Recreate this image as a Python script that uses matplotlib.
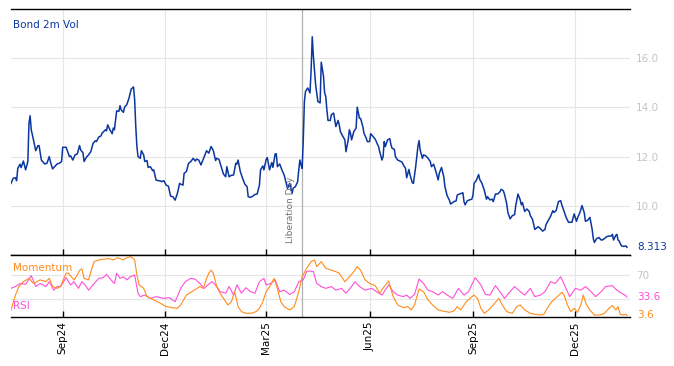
import numpy as np
import pandas as pd
import matplotlib
matplotlib.use('Agg')
import matplotlib.pyplot as plt
import matplotlib.dates as mdates
import matplotlib.transforms as mtransforms

# --- data ---
vol_dates = [
    '2024-07-17', '2024-07-19', '2024-07-21', '2024-07-22', '2024-07-23', '2024-07-25', '2024-07-26', '2024-07-28',
    '2024-07-30', '2024-08-01', '2024-08-02', '2024-08-03', '2024-08-04', '2024-08-06', '2024-08-08', '2024-08-10',
    '2024-08-11', '2024-08-13', '2024-08-16', '2024-08-18', '2024-08-20', '2024-08-21', '2024-08-23', '2024-08-25',
    '2024-08-27', '2024-08-29', '2024-08-31', '2024-09-01', '2024-09-04', '2024-09-07', '2024-09-08', '2024-09-10',
    '2024-09-12', '2024-09-14', '2024-09-16', '2024-09-17', '2024-09-19', '2024-09-20', '2024-09-22', '2024-09-24',
    '2024-09-26', '2024-09-28', '2024-09-30', '2024-10-01', '2024-10-03', '2024-10-05', '2024-10-06', '2024-10-09',
    '2024-10-10', '2024-10-11', '2024-10-13', '2024-10-15', '2024-10-16', '2024-10-17', '2024-10-19', '2024-10-21',
    '2024-10-22', '2024-10-23', '2024-10-25', '2024-10-26', '2024-10-28', '2024-10-30', '2024-11-01', '2024-11-03',
    '2024-11-04', '2024-11-05', '2024-11-06', '2024-11-07', '2024-11-09', '2024-11-10', '2024-11-12', '2024-11-13',
    '2024-11-15', '2024-11-16', '2024-11-18', '2024-11-20', '2024-11-21', '2024-11-23', '2024-11-25', '2024-11-27',
    '2024-11-28', '2024-11-30', '2024-12-02', '2024-12-04', '2024-12-06', '2024-12-08', '2024-12-10', '2024-12-12',
    '2024-12-14', '2024-12-15', '2024-12-17', '2024-12-18', '2024-12-20', '2024-12-22', '2024-12-24', '2024-12-26',
    '2024-12-28', '2024-12-29', '2024-12-31', '2025-01-02', '2025-01-04', '2025-01-05', '2025-01-07', '2025-01-09',
    '2025-01-11', '2025-01-13', '2025-01-15', '2025-01-16', '2025-01-18', '2025-01-20', '2025-01-22', '2025-01-24',
    '2025-01-25', '2025-01-27', '2025-01-29', '2025-01-31', '2025-02-02', '2025-02-03', '2025-02-04', '2025-02-06',
    '2025-02-08', '2025-02-10', '2025-02-12', '2025-02-13', '2025-02-15', '2025-02-17', '2025-02-19', '2025-02-21',
    '2025-02-23', '2025-02-24', '2025-02-26', '2025-02-27', '2025-03-01', '2025-03-02', '2025-03-04', '2025-03-06',
    '2025-03-07', '2025-03-09', '2025-03-10', '2025-03-11', '2025-03-13', '2025-03-15', '2025-03-17', '2025-03-19',
    '2025-03-20', '2025-03-22', '2025-03-24', '2025-03-25', '2025-03-27', '2025-03-29', '2025-03-30', '2025-03-31',
    '2025-04-01', '2025-04-02', '2025-04-03', '2025-04-04', '2025-04-05', '2025-04-07', '2025-04-09', '2025-04-10',
    '2025-04-11', '2025-04-12', '2025-04-14', '2025-04-16', '2025-04-18', '2025-04-19', '2025-04-21', '2025-04-22',
    '2025-04-23', '2025-04-24', '2025-04-25', '2025-04-27', '2025-04-28', '2025-04-30', '2025-05-02', '2025-05-04',
    '2025-05-05', '2025-05-06', '2025-05-08', '2025-05-10', '2025-05-11', '2025-05-13', '2025-05-14', '2025-05-15',
    '2025-05-16', '2025-05-18', '2025-05-20', '2025-05-21', '2025-05-23', '2025-05-24', '2025-05-26', '2025-05-27',
    '2025-05-29', '2025-05-30', '2025-06-01', '2025-06-02', '2025-06-04', '2025-06-06', '2025-06-08', '2025-06-09',
    '2025-06-10', '2025-06-12', '2025-06-13', '2025-06-14', '2025-06-15', '2025-06-17', '2025-06-19', '2025-06-20',
    '2025-06-21', '2025-06-23', '2025-06-24', '2025-06-26', '2025-06-28', '2025-06-30', '2025-07-01', '2025-07-03',
    '2025-07-04', '2025-07-06', '2025-07-07', '2025-07-09', '2025-07-10', '2025-07-12', '2025-07-14', '2025-07-15',
    '2025-07-16', '2025-07-18', '2025-07-19', '2025-07-21', '2025-07-23', '2025-07-25', '2025-07-26', '2025-07-28',
    '2025-07-30', '2025-08-01', '2025-08-02', '2025-08-04', '2025-08-06', '2025-08-07', '2025-08-09', '2025-08-11',
    '2025-08-12', '2025-08-15', '2025-08-17', '2025-08-18', '2025-08-20', '2025-08-22', '2025-08-23', '2025-08-24',
    '2025-08-25', '2025-08-27', '2025-08-29', '2025-08-31', '2025-09-01', '2025-09-02', '2025-09-04', '2025-09-06',
    '2025-09-07', '2025-09-09', '2025-09-11', '2025-09-13', '2025-09-14', '2025-09-16', '2025-09-18', '2025-09-19',
    '2025-09-21', '2025-09-23', '2025-09-25', '2025-09-26', '2025-09-28', '2025-09-29', '2025-10-01', '2025-10-02',
    '2025-10-04', '2025-10-06', '2025-10-08', '2025-10-09', '2025-10-11', '2025-10-13', '2025-10-14', '2025-10-15',
    '2025-10-17', '2025-10-19', '2025-10-21', '2025-10-22', '2025-10-24', '2025-10-26', '2025-10-28', '2025-10-29',
    '2025-10-31', '2025-11-02', '2025-11-04', '2025-11-05', '2025-11-07', '2025-11-09', '2025-11-11', '2025-11-12',
    '2025-11-14', '2025-11-16', '2025-11-18', '2025-11-19', '2025-11-21', '2025-11-23', '2025-11-25', '2025-11-27',
    '2025-11-28', '2025-11-30', '2025-12-02', '2025-12-03', '2025-12-05', '2025-12-07', '2025-12-09', '2025-12-10',
    '2025-12-12', '2025-12-14', '2025-12-16', '2025-12-17', '2025-12-18', '2025-12-20', '2025-12-22', '2025-12-24',
    '2025-12-25', '2025-12-27', '2025-12-29', '2025-12-31', '2026-01-02', '2026-01-03', '2026-01-04', '2026-01-06',
    '2026-01-07', '2026-01-08', '2026-01-09', '2026-01-11', '2026-01-13', '2026-01-15', '2026-01-16',
]
vol_values = [
    10.91, 11.12, 11.14, 11.02, 11.52, 11.69, 11.55, 11.82,
    11.46, 11.80, 13.36, 13.66, 13.09, 12.68, 12.24, 12.45,
    12.44, 11.86, 11.70, 11.73, 12.00, 11.80, 11.50, 11.60,
    11.70, 11.73, 11.80, 12.38, 12.38, 12.00, 12.03, 11.86,
    12.07, 12.11, 12.45, 12.27, 12.16, 11.80, 11.97, 12.07,
    12.20, 12.54, 12.64, 12.61, 12.79, 12.84, 12.95, 13.09,
    13.05, 13.29, 13.09, 12.93, 13.16, 13.09, 13.86, 13.84,
    14.07, 13.90, 13.80, 14.01, 14.11, 14.38, 14.75, 14.83,
    14.31, 13.22, 12.41, 12.00, 11.93, 12.24, 12.07, 11.80,
    11.84, 11.56, 11.59, 11.43, 11.46, 11.05, 11.02, 11.01,
    10.98, 11.02, 10.84, 10.80, 10.39, 10.37, 10.23, 10.50,
    10.91, 10.88, 10.84, 11.32, 11.39, 11.73, 11.80, 11.93,
    11.82, 11.90, 11.86, 11.66, 11.89, 12.00, 12.24, 12.14,
    12.41, 12.24, 11.84, 11.93, 11.89, 11.59, 11.29, 11.18,
    11.59, 11.18, 11.24, 11.25, 11.73, 11.70, 11.86, 11.39,
    11.12, 10.88, 10.78, 10.37, 10.34, 10.39, 10.46, 10.48,
    10.84, 11.46, 11.62, 11.46, 11.89, 11.96, 11.46, 11.76,
    11.56, 12.11, 12.11, 11.59, 11.70, 11.46, 11.25, 10.88,
    10.71, 10.91, 10.50, 10.71, 10.78, 10.98, 11.46, 11.86,
    11.66, 11.52, 12.68, 14.24, 14.65, 14.79, 14.59, 15.54,
    16.87, 16.08, 14.92, 14.24, 14.18, 15.84, 15.27, 14.59,
    14.45, 13.91, 13.47, 13.47, 13.70, 13.77, 13.22, 13.47,
    13.29, 13.02, 12.84, 12.68, 12.20, 12.68, 13.09, 12.95,
    12.68, 13.02, 13.16, 14.01, 13.56, 13.55, 13.22, 12.95,
    12.75, 12.61, 12.61, 12.93, 12.82, 12.71, 12.50, 12.41,
    12.20, 11.86, 12.00, 12.61, 12.41, 12.68, 12.73, 12.48,
    12.34, 12.30, 12.00, 11.86, 11.82, 11.77, 11.66, 11.52,
    11.14, 11.48, 11.25, 10.94, 10.91, 11.59, 12.41, 12.65,
    12.27, 11.93, 12.07, 12.03, 11.93, 11.80, 11.59, 11.69,
    11.39, 11.05, 11.32, 11.56, 11.18, 10.78, 10.41, 10.23,
    10.07, 10.17, 10.20, 10.44, 10.48, 10.51, 10.53, 10.17,
    10.04, 10.21, 10.24, 10.27, 10.44, 10.91, 11.04, 11.27,
    11.07, 10.91, 10.64, 10.27, 10.37, 10.24, 10.27, 10.17,
    10.48, 10.48, 10.57, 10.67, 10.61, 10.47, 10.08, 9.73,
    9.47, 9.60, 9.64, 10.00, 10.48, 10.24, 10.04, 10.13,
    9.77, 9.87, 9.77, 9.60, 9.44, 9.04, 9.11, 9.15,
    9.07, 8.97, 9.04, 9.24, 9.41, 9.57, 9.80, 9.73,
    9.81, 10.17, 10.21, 10.04, 9.77, 9.51, 9.33, 9.33,
    9.33, 9.67, 9.37, 9.51, 9.71, 10.01, 9.71, 9.37,
    9.41, 9.53, 9.04, 8.67, 8.51, 8.67, 8.71, 8.61,
    8.61, 8.67, 8.75, 8.77, 8.77, 8.84, 8.61, 8.80,
    8.84, 8.61, 8.57, 8.37, 8.35, 8.37, 8.313,
]

mom_dates = [
    '2024-07-17', '2024-07-21', '2024-07-24', '2024-07-28', '2024-08-02', '2024-08-06', '2024-08-12', '2024-08-17',
    '2024-08-20', '2024-08-23', '2024-08-27', '2024-08-30', '2024-09-04', '2024-09-06', '2024-09-11', '2024-09-14',
    '2024-09-16', '2024-09-18', '2024-09-20', '2024-09-24', '2024-09-27', '2024-09-29', '2024-10-03', '2024-10-07',
    '2024-10-12', '2024-10-16', '2024-10-20', '2024-10-25', '2024-10-28', '2024-11-01', '2024-11-04', '2024-11-06',
    '2024-11-08', '2024-11-12', '2024-11-15', '2024-11-21', '2024-11-27', '2024-12-02', '2024-12-07', '2024-12-12',
    '2024-12-15', '2024-12-20', '2024-12-27', '2025-01-01', '2025-01-04', '2025-01-07', '2025-01-09', '2025-01-11',
    '2025-01-13', '2025-01-16', '2025-01-19', '2025-01-23', '2025-01-26', '2025-01-29', '2025-02-01', '2025-02-04',
    '2025-02-07', '2025-02-11', '2025-02-16', '2025-02-20', '2025-02-23', '2025-02-26', '2025-03-01', '2025-03-05',
    '2025-03-08', '2025-03-11', '2025-03-14', '2025-03-17', '2025-03-22', '2025-03-26', '2025-03-30', '2025-04-02',
    '2025-04-06', '2025-04-10', '2025-04-13', '2025-04-15', '2025-04-19', '2025-04-23', '2025-04-28', '2025-05-02',
    '2025-05-05', '2025-05-10', '2025-05-14', '2025-05-18', '2025-05-21', '2025-05-24', '2025-05-28', '2025-06-01',
    '2025-06-06', '2025-06-10', '2025-06-14', '2025-06-18', '2025-06-22', '2025-06-26', '2025-07-01', '2025-07-05',
    '2025-07-08', '2025-07-11', '2025-07-15', '2025-07-19', '2025-07-23', '2025-07-27', '2025-08-01', '2025-08-05',
    '2025-08-11', '2025-08-15', '2025-08-18', '2025-08-21', '2025-08-26', '2025-08-30', '2025-09-02', '2025-09-05',
    '2025-09-08', '2025-09-11', '2025-09-15', '2025-09-19', '2025-09-24', '2025-09-27', '2025-10-01', '2025-10-06',
    '2025-10-10', '2025-10-13', '2025-10-17', '2025-10-22', '2025-10-26', '2025-10-31', '2025-11-03', '2025-11-06',
    '2025-11-10', '2025-11-15', '2025-11-19', '2025-11-21', '2025-11-24', '2025-11-27', '2025-11-30', '2025-12-03',
    '2025-12-06', '2025-12-08', '2025-12-11', '2025-12-14', '2025-12-18', '2025-12-23', '2025-12-27', '2025-12-31',
    '2026-01-03', '2026-01-06', '2026-01-08', '2026-01-10', '2026-01-13', '2026-01-15', '2026-01-16',
]
mom_values = [
    12.5, 37, 51, 59, 64.5, 56, 62, 59,
    64.5, 51, 48, 51, 73, 73, 62, 70,
    78, 80, 64.5, 62, 81, 92, 94.7, 96,
    97, 94.7, 98.5, 94.7, 98.5, 100, 94.7, 70,
    53.6, 48, 34.4, 29, 23.4, 18, 16.3, 15.2,
    20.7, 37, 45, 51, 48, 64.5, 73, 78,
    73, 51, 40, 29, 20.7, 26, 42.6, 18,
    9.7, 7, 7, 9.7, 15.2, 26, 42.6, 53.6,
    64.5, 48, 26, 18, 12.5, 18, 42.6, 67,
    81, 92, 94.7, 83.7, 92, 81, 78, 75.5,
    73, 59, 67, 75.5, 83.7, 78, 62, 56,
    52.5, 40, 51, 60, 34.4, 20.7, 16.3, 18,
    12.5, 20.7, 47, 42.6, 29, 20.7, 12.5, 10.8,
    8.6, 10.8, 18, 12.5, 26, 32.7, 37, 31.6,
    15.2, 7, 12.5, 20.7, 31.6, 20.7, 9.7, 7,
    18, 20.7, 12.5, 7, 5.3, 4.2, 5.3, 15.2,
    26, 34.4, 41.5, 37, 20.7, 9.7, 15.2, 8.6,
    20.7, 37, 20.7, 12.5, 4.2, 4.2, 7, 15.2,
    19.6, 12.5, 18, 5.3, 4.2, 5.3, 3.6,
]

rsi_dates = [
    '2024-07-17', '2024-07-21', '2024-07-25', '2024-07-30', '2024-08-04', '2024-08-08', '2024-08-12', '2024-08-17',
    '2024-08-20', '2024-08-24', '2024-08-27', '2024-08-30', '2024-09-04', '2024-09-08', '2024-09-11', '2024-09-15',
    '2024-09-18', '2024-09-21', '2024-09-24', '2024-09-29', '2024-10-03', '2024-10-07', '2024-10-10', '2024-10-14',
    '2024-10-17', '2024-10-19', '2024-10-22', '2024-10-25', '2024-10-28', '2024-10-31', '2024-11-04', '2024-11-07',
    '2024-11-09', '2024-11-13', '2024-11-18', '2024-11-23', '2024-11-30', '2024-12-05', '2024-12-10', '2024-12-15',
    '2024-12-19', '2024-12-24', '2024-12-28', '2025-01-01', '2025-01-05', '2025-01-08', '2025-01-12', '2025-01-16',
    '2025-01-19', '2025-01-24', '2025-01-27', '2025-01-31', '2025-02-03', '2025-02-07', '2025-02-11', '2025-02-15',
    '2025-02-19', '2025-02-23', '2025-02-27', '2025-03-01', '2025-03-05', '2025-03-09', '2025-03-13', '2025-03-17',
    '2025-03-22', '2025-03-26', '2025-03-30', '2025-04-03', '2025-04-06', '2025-04-09', '2025-04-12', '2025-04-15',
    '2025-04-19', '2025-04-23', '2025-04-28', '2025-05-02', '2025-05-07', '2025-05-11', '2025-05-16', '2025-05-19',
    '2025-05-23', '2025-05-28', '2025-06-03', '2025-06-07', '2025-06-12', '2025-06-18', '2025-06-22', '2025-06-26',
    '2025-07-01', '2025-07-04', '2025-07-07', '2025-07-11', '2025-07-15', '2025-07-19', '2025-07-23', '2025-07-27',
    '2025-08-01', '2025-08-05', '2025-08-09', '2025-08-14', '2025-08-19', '2025-08-24', '2025-08-28', '2025-09-03',
    '2025-09-08', '2025-09-12', '2025-09-16', '2025-09-21', '2025-09-25', '2025-09-29', '2025-10-04', '2025-10-08',
    '2025-10-13', '2025-10-17', '2025-10-22', '2025-10-26', '2025-10-31', '2025-11-04', '2025-11-09', '2025-11-13',
    '2025-11-18', '2025-11-22', '2025-11-26', '2025-12-01', '2025-12-06', '2025-12-10', '2025-12-15', '2025-12-19',
    '2025-12-24', '2025-12-28', '2026-01-03', '2026-01-07', '2026-01-11', '2026-01-15', '2026-01-16',
]
rsi_values = [
    48, 51, 56, 54.7, 69, 51, 56, 51,
    59, 45, 51, 51, 65.6, 53.6, 59, 48,
    59, 53.6, 45, 56, 64.5, 65.6, 71, 62,
    56, 73, 64.5, 67, 62, 67, 70, 40,
    34.4, 37, 31.6, 34.4, 31.6, 32.7, 26, 48,
    59, 64.5, 63, 56, 48, 53.6, 59, 51,
    42.6, 40, 51, 37, 53.6, 40, 49, 42.6,
    40, 59, 64.5, 53.6, 56, 62, 42.6, 45,
    38, 42.6, 59, 62, 75.5, 76.6, 75.5, 56,
    51, 48, 51, 45, 48, 40, 51, 59,
    51, 45, 48, 42.6, 37, 53.6, 42.6, 37,
    34.4, 37, 31.6, 38, 63.4, 56, 45, 42.6,
    37, 42.6, 37, 31.6, 48, 37, 42.6, 65.6,
    53.6, 38, 37, 52.5, 42.6, 31.6, 42.6, 51,
    42.6, 37, 48, 34.4, 37, 42.6, 59, 56,
    67, 51, 34.4, 48, 45, 51, 42.6, 34.4,
    42.6, 51, 52.5, 45, 40, 36, 33.6,
]

liberation_day = '2025-04-02'
tick_dates = ['2024-09-01', '2024-12-01', '2025-03-01', '2025-06-01', '2025-09-01', '2025-12-01']

vol_x = pd.to_datetime(vol_dates)
mom_x = pd.to_datetime(mom_dates)
rsi_x = pd.to_datetime(rsi_dates)
lib_x = pd.Timestamp(liberation_day)

BLUE = '#0b36a0'
ORANGE = '#ff8c1a'
MAGENTA = '#ff4fd8'
GRID = '#e6e6e6'
TICK_GREY = '#c4c4c4'

fig = plt.figure(figsize=(6.74, 3.66), dpi=100)
W, H = 674, 366
ax1 = fig.add_axes([11 / W, 1 - 255 / H, 619 / W, 246 / H])
ax2 = fig.add_axes([11 / W, 1 - 317 / H, 619 / W, 62 / H], sharex=ax1)

ax1.plot(vol_x, vol_values, color=BLUE, lw=1.1)
ax2.plot(rsi_x, rsi_values, color=MAGENTA, lw=0.8)
ax2.plot(mom_x, mom_values, color=ORANGE, lw=0.8)

for ax in (ax1, ax2):
    ax.axvline(lib_x, color='#b0b0b0', lw=0.9, zorder=1)
    ax.spines['left'].set_visible(False)
    ax.spines['right'].set_visible(False)
    for s in ('top', 'bottom'):
        ax.spines[s].set_color('black')
        ax.spines[s].set_linewidth(1.0)
    ax.grid(True, color=GRID, lw=0.8)
    ax.set_axisbelow(True)
    ax.yaxis.tick_right()
    ax.tick_params(axis='y', length=0, pad=4.5, labelsize=7.5, labelcolor=TICK_GREY)
    ax.tick_params(axis='x', direction='in', length=4.5, width=1, bottom=True, top=False)

ax1.set_xlim(pd.Timestamp('2024-07-17'), pd.Timestamp('2026-01-18 16:00'))
ax1.set_xticks(pd.to_datetime(tick_dates))
ax1.xaxis.set_major_formatter(mdates.DateFormatter('%b%y'))
ax1.tick_params(axis='x', labelbottom=False)

ax1.set_ylim(8.0, 18.0)
ax1.set_yticks([10, 12, 14, 16])
ax1.set_yticklabels(['10.0', '12.0', '14.0', '16.0'])

ax2.set_ylim(0.9, 102.9)
ax2.set_yticks([30, 70])
ax2.set_yticklabels(['', '70'])
ax2.tick_params(axis='x', labelsize=7.5, labelrotation=90, pad=3)

# labels
ax1.text(0.003, 0.935, 'Bond 2m Vol', transform=ax1.transAxes, color=BLUE,
         fontsize=7.5, ha='left', va='center')
ax1.annotate('Liberation Day', xy=(lib_x, 8.5), xytext=(-5, 0), textcoords='offset points',
             rotation=90, ha='right', va='bottom', fontsize=6.5, color='#707070')

tr1 = mtransforms.blended_transform_factory(ax1.transAxes, ax1.transData)
ax1.text(1.011, vol_values[-1], f'{vol_values[-1]:.3f}', transform=tr1, color=BLUE,
         fontsize=7.5, ha='left', va='center')

tr2 = mtransforms.blended_transform_factory(ax2.transAxes, ax2.transData)
ax2.text(1.011, rsi_values[-1], f'{rsi_values[-1]:.1f}', transform=tr2, color=MAGENTA,
         fontsize=7.5, ha='left', va='center')
ax2.text(1.011, mom_values[-1], f'{mom_values[-1]:.1f}', transform=tr2, color=ORANGE,
         fontsize=7.5, ha='left', va='center')
ax2.text(0.003, 0.79, 'Momentum', transform=ax2.transAxes, color=ORANGE,
         fontsize=7.5, ha='left', va='center')
ax2.text(0.003, 0.177, 'RSI', transform=ax2.transAxes, color=MAGENTA,
         fontsize=7.5, ha='left', va='center')

fig.savefig('out.png', dpi=100)
